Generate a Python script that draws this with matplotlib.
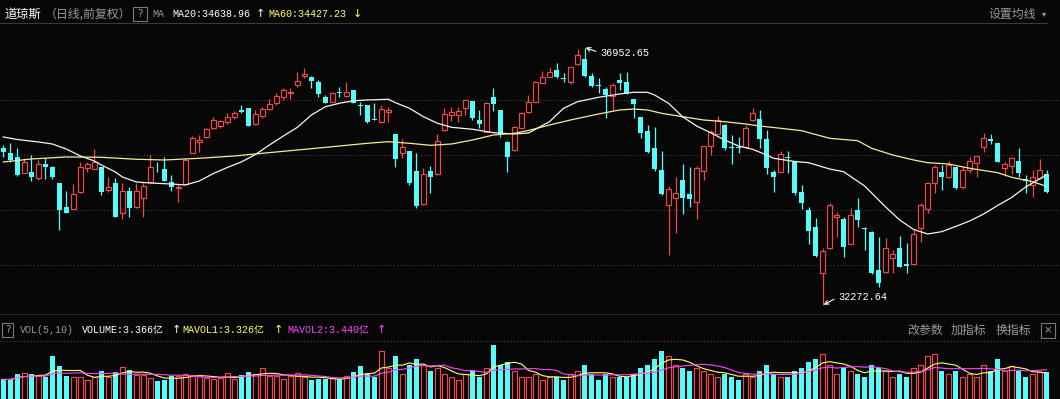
import numpy as np
import pandas as pd
import matplotlib
matplotlib.use("Agg")
import matplotlib.pyplot as plt
from matplotlib.lines import Line2D
from matplotlib.patches import Rectangle

# ---- daily candles (Dow Jones), oldest first ----
opens = [35121, 35030, 34968, 34677, 34684, 34575, 34830, 34775, 34484, 34058,
         34022, 34320, 34768, 34750, 34775, 34362, 34484, 33949, 34344, 34047,
         34211, 34513, 34786, 34739, 34513, 34398, 34466, 35041, 35241, 35332,
         35485, 35532, 35605, 35685, 35818, 35849, 35563, 35709, 35836, 35940,
         36060, 36133, 36273, 36437, 36424, 36333, 36060, 35969, 36140, 36078,
         36182, 35909, 35909, 35649, 35605, 35776, 35376, 35030, 35072, 34708,
         34102, 34708, 34648, 35454, 35727, 35727, 35849, 35982, 35636, 35423,
         36049, 35818, 35241, 35090, 35485, 35787, 35969, 36315, 36424, 36546,
         36395, 36333, 36650, 36746, 36442, 36273, 36195, 36073, 36364, 36322,
         36013, 35685, 35441, 35121, 34726, 34089, 34211, 34544, 34289, 34149,
         34708, 35163, 35381, 35545, 35139, 35150, 35150, 35636, 35649, 35285,
         34695, 34695, 34957, 34877, 34331, 33998, 33694, 32846, 33301, 33876,
         33829, 33379, 33998, 33676, 33603, 32906, 32875, 33119, 33301, 33015,
         33015, 33665, 34011, 34484, 34695, 34593, 34775, 34422, 34726, 34848,
         35139, 35285, 35223, 34757, 34799, 34895, 34557, 34453, 34575, 34653]
highs = [35181, 35212, 35121, 34939, 34999, 34908, 34939, 34799, 34490, 34344,
         34466, 34877, 34877, 35103, 34785, 34604, 34575, 34495, 34422, 34484,
         34513, 34999, 34877, 34968, 34635, 34471, 34939, 35345, 35363, 35485,
         35696, 35636, 35769, 35800, 35909, 35855, 35818, 35878, 36013, 36122,
         36213, 36213, 36504, 36577, 36437, 36364, 36091, 36151, 36242, 36333,
         36190, 35969, 35915, 35940, 35909, 35878, 35385, 35285, 35080, 35030,
         34757, 34799, 35376, 35849, 35878, 35878, 36013, 35990, 35818, 35969,
         36213, 35825, 35250, 35527, 35787, 36091, 36340, 36533, 36595, 36679,
         36486, 36606, 36930, 36952.65, 36486, 36395, 36242, 36304, 36486, 36515,
         36020, 35690, 35545, 35503, 35079, 34435, 34604, 34830, 34786, 34799,
         35170, 35454, 35709, 35555, 35363, 35332, 35545, 35849, 35818, 35454,
         34726, 35072, 35072, 34885, 34453, 34047, 33847, 33301, 34120, 33967,
         33876, 34029, 34211, 33680, 33610, 33512, 33483, 33270, 33525, 33403,
         33634, 34131, 34513, 34817, 34817, 34895, 34786, 34775, 34968, 34985,
         35394, 35381, 35241, 34877, 34968, 35121, 34635, 34726, 34921, 34726]
lows = [34968, 34877, 34625, 34666, 34531, 34544, 34562, 34557, 33634, 33940,
        34010, 34310, 34695, 34740, 34271, 34331, 33865, 33829, 33865, 34040,
        33876, 34505, 34695, 34525, 34349, 34149, 34455, 35035, 35059, 35303,
        35472, 35485, 35563, 35654, 35758, 35520, 35545, 35667, 35818, 35909,
        36000, 36013, 36242, 36395, 36213, 36049, 35940, 35958, 36060, 36060,
        35945, 35727, 35587, 35630, 35587, 35605, 34786, 34939, 34453, 34040,
        34089, 34302, 34635, 35441, 35618, 35605, 35727, 35636, 35485, 35412,
        35805, 35332, 34695, 35077, 35467, 35769, 35960, 36304, 36415, 36405,
        36333, 36286, 36637, 36424, 36231, 36122, 35667, 35818, 36182, 36109,
        35667, 35303, 35041, 34713, 34271, 33179, 33574, 33925, 34058, 33829,
        34544, 34999, 35375, 35090, 34835, 35030, 35121, 35623, 35121, 34653,
        34331, 34684, 34677, 34271, 34011, 33379, 33148, 32272.64, 33290, 33501,
        33148, 33370, 33694, 33270, 32840, 32602, 32857, 32857, 32955, 32846,
        32995, 33421, 33938, 34302, 34362, 34575, 34375, 34375, 34677, 34593,
        35059, 35199, 34866, 34617, 34653, 34593, 34313, 34229, 34557, 34302]
closes = [35059, 34908, 34635, 34877, 34593, 34830, 34775, 34593, 33998, 33949,
          34284, 34786, 34830, 34877, 34326, 34422, 33876, 34344, 34040, 34344,
          34435, 34775, 34775, 34531, 34411, 34411, 34908, 35303, 35272, 35467,
          35636, 35618, 35696, 35769, 35787, 35527, 35745, 35831, 35927, 36073,
          36182, 36151, 36351, 36468, 36351, 36109, 35951, 36133, 36122, 36151,
          35951, 35891, 35605, 35636, 35836, 35818, 34921, 35150, 34495, 34071,
          34648, 34604, 35254, 35745, 35787, 35800, 36000, 35667, 35563, 35951,
          35927, 35381, 34968, 35503, 35769, 35958, 36333, 36413, 36504, 36413,
          36377, 36595, 36819, 36442, 36255, 36260, 36091, 36273, 36315, 36122,
          35927, 35405, 35059, 34739, 34289, 34375, 34313, 34211, 34193, 34757,
          35163, 35423, 35636, 35121, 35121, 35132, 35485, 35769, 35285, 34757,
          34593, 35012, 34939, 34313, 34120, 33621, 33161, 33257, 34089, 33907,
          33330, 33907, 33816, 33652, 32846, 32664, 33301, 33197, 32966, 32984,
          33561, 34089, 34495, 34775, 34593, 34817, 34393, 34726, 34895, 34981,
          35303, 35259, 34877, 34835, 34939, 34666, 34531, 34593, 34726, 34331]

# volume in 亿
volume = [3.11, 3.11, 3.29, 3.32, 3.29, 3.22, 3.18, 3.91, 3.57, 3.22,
          3.20, 3.20, 3.09, 3.20, 3.40, 3.20, 3.35, 3.52, 3.45, 3.25,
          3.25, 3.15, 3.06, 3.09, 3.22, 3.22, 3.29, 3.26, 3.22, 3.15,
          3.12, 3.17, 3.32, 3.12, 3.26, 3.35, 3.29, 3.49, 3.22, 3.22,
          3.11, 3.22, 3.32, 3.20, 3.09, 3.12, 3.12, 3.15, 3.11, 3.22,
          3.35, 3.57, 3.30, 3.20, 4.10, 3.50, 3.90, 3.30, 3.60, 3.80,
          3.60, 3.40, 3.50, 3.30, 3.20, 3.10, 3.30, 3.40, 3.20, 3.50,
          4.30, 3.60, 3.70, 3.40, 3.20, 3.20, 3.30, 3.10, 3.20, 3.20,
          3.10, 3.30, 3.40, 3.60, 3.30, 3.10, 3.30, 3.20, 3.20, 3.20,
          3.30, 3.50, 3.60, 3.80, 4.10, 3.90, 3.60, 3.50, 3.40, 3.50,
          3.40, 3.30, 3.20, 3.30, 3.20, 3.10, 3.30, 3.20, 3.40, 3.60,
          3.30, 3.20, 3.20, 3.40, 3.50, 3.70, 3.80, 4.00, 3.60, 3.30,
          3.50, 3.40, 3.30, 3.20, 3.60, 3.50, 3.40, 3.20, 3.30, 3.20,
          3.50, 3.60, 3.90, 4.00, 3.40, 3.30, 3.40, 3.20, 3.30, 3.20,
          3.60, 3.40, 3.80, 3.40, 3.57, 3.40, 3.20, 3.30, 3.364, 3.366]

# moving averages (candle index, value)
ma20_idx = [0, 2, 5, 7, 9, 11, 13, 14, 16, 17, 19, 21, 24, 26, 28, 30, 32, 34, 36, 38,
            40, 42, 44, 46, 48, 50, 52, 55, 56, 58, 60, 62, 64, 67, 70, 73, 75, 78, 80, 82,
            85, 88, 90, 92, 93, 95, 97, 99, 101, 103, 105, 107, 109, 110, 113, 115, 118, 120,
            123, 125, 126, 128, 130, 132, 134, 136, 138, 140, 142, 144, 146, 147, 149]
ma20_val = [35327, 35281, 35236, 35199, 35108, 34981, 34890, 34817, 34690, 34599, 34508,
            34489, 34471, 34453, 34526, 34662, 34772, 34872, 35008, 35181,
            35345, 35503, 35727, 35878, 35940, 35987, 36000, 36013, 35951, 35849,
            35696, 35576, 35503, 35467, 35405, 35381, 35399, 35605, 35849, 35969,
            36049, 36109, 36140, 36140, 36091, 35940, 35696, 35527, 35405, 35272,
            35163, 35103, 34999, 34939, 34881, 34859, 34744, 34695,
            34435, 34180, 34053, 33816, 33643, 33561, 33603, 33698, 33798, 33925,
            34080, 34226, 34417, 34489, 34638.96]
ma60_idx = [0, 4, 9, 14, 19, 23, 28, 33, 37, 42, 47, 52, 55, 58, 61, 64, 67, 70, 73, 75,
            78, 81, 85, 88, 90, 92, 94, 97, 100, 103, 106, 108, 111, 114, 118, 122, 124,
            127, 130, 132, 135, 138, 142, 144, 147, 149]
ma60_val = [34872, 34926, 34963, 34957, 34921, 34908, 34939, 34981, 35030, 35090,
            35150, 35212, 35241, 35212, 35175, 35199, 35272, 35363, 35394, 35445,
            35545, 35636, 35745, 35818, 35836, 35818, 35758, 35696, 35636, 35605,
            35563, 35527, 35485, 35441, 35303, 35259, 35121, 34999, 34908, 34859,
            34835, 34757, 34677, 34593, 34513, 34427.23]

grid_levels = [36000, 35000, 34000, 33000]

BG = '#070707'
UP = '#f04848'
DN = '#54fcfc'
MA20C = '#f4f4f4'
MA60C = '#f2ee96'
YEL = '#ffff70'
MAG = '#ff44ff'
GREY = '#9a9a9a'
CJK = ['Noto Sans CJK SC', 'DejaVu Sans']
MONO = ['Liberation Mono', 'Noto Sans CJK SC', 'DejaVu Sans']

W, H = 1060, 399
fig = plt.figure(figsize=(W / 100, H / 100), dpi=100, facecolor=BG)


def box(x0, y0, x1, y1):
    # pixel box (y from top) -> figure fraction
    return [x0 / W, 1 - y1 / H, (x1 - x0) / W, (y1 - y0) / H]


def txt(x, y, s, color, size=8.5, family=CJK, ha='left'):
    fig.text(x / W, 1 - y / H, s, color=color, fontsize=size, family=family,
             ha=ha, va='center')


def hline(x0, x1, y, color, ls='-', lw=0.8):
    fig.add_artist(Line2D([x0 / W, x1 / W], [1 - y / H, 1 - y / H], color=color,
                          ls=ls, lw=lw, transform=fig.transFigure))


def qbox(x0, y0, x1, y1, s):
    fig.add_artist(Rectangle((x0 / W, 1 - y1 / H), (x1 - x0) / W, (y1 - y0) / H,
                             fill=False, ec='#7a7a7a', lw=0.8, transform=fig.transFigure))
    txt((x0 + x1) / 2, (y0 + y1) / 2, s, GREY, size=7.5, family=['DejaVu Sans'], ha='center')


o = np.array(opens, float)
h = np.array(highs, float)
l = np.array(lows, float)
c = np.array(closes, float)
v = np.array(volume, float)
x = np.arange(len(c))
up = c >= o
blo = np.minimum(o, c)
bhi = np.maximum(o, c)
bh = np.maximum(bhi - blo, 14)

# ---- price panel ----
ax = fig.add_axes(box(0, 24, 1060, 313), facecolor=BG)
ax.set_xlim(-0.47, 150.9)
ax.set_ylim(32123, 37383)
ax.axis('off')
for g in grid_levels:
    ax.axhline(g, color='#404040', lw=0.8, ls=(0, (1, 2)), zorder=0)

ax.vlines(x[~up], l[~up], h[~up], color=DN, lw=0.9, zorder=2)
ax.bar(x[~up], bh[~up], bottom=blo[~up], width=0.72, color=DN, lw=0, zorder=3)
ax.vlines(x[up], bhi[up], h[up], color=UP, lw=0.9, zorder=2)
ax.vlines(x[up], l[up], blo[up], color=UP, lw=0.9, zorder=2)
ax.bar(x[up], bh[up], bottom=blo[up], width=0.66, facecolor=BG, edgecolor=UP,
       lw=0.85, zorder=3)

ax.plot(ma20_idx, ma20_val, color=MA20C, lw=0.9, zorder=4)
ax.plot(ma60_idx, ma60_val, color=MA60C, lw=0.9, zorder=4)

ihi = int(np.argmax(h))
ilo = int(np.argmin(l))
ax.annotate(f'{h[ihi]:.2f}', xy=(ihi + 0.15, h[ihi]), xytext=(ihi + 2.2, h[ihi] - 95),
            color='white', fontsize=7.3, family=MONO, va='center', ha='left',
            arrowprops=dict(arrowstyle='->', color='white', lw=0.8, relpos=(0, 0.5),
                            shrinkA=1, shrinkB=0, mutation_scale=7), zorder=6)
ax.annotate(f'{l[ilo]:.2f}', xy=(ilo + 0.15, l[ilo]), xytext=(ilo + 2.2, l[ilo] + 140),
            color='white', fontsize=7.3, family=MONO, va='center', ha='left',
            arrowprops=dict(arrowstyle='->', color='white', lw=0.8, relpos=(0, 0.5),
                            shrinkA=1, shrinkB=0, mutation_scale=7), zorder=6)

# ---- volume panel (bottom is cut by the image edge) ----
ax2 = fig.add_axes(box(0, 341, 1060, 470), facecolor=BG)
ax2.set_xlim(-0.47, 150.9)
ax2.set_ylim(0, 4.43)
ax2.axis('off')
ax2.bar(x[~up], v[~up], width=0.76, color=DN, lw=0, zorder=2)
ax2.bar(x[up], v[up], width=0.7, facecolor=BG, edgecolor=UP, lw=0.85, zorder=2)
mv5 = pd.Series(v).rolling(5, min_periods=1).mean()
mv10 = pd.Series(v).rolling(10, min_periods=1).mean()
ax2.plot(x, mv5, color=YEL, lw=0.8, zorder=3)
ax2.plot(x, mv10, color=MAG, lw=0.8, zorder=3)

# ---- frame lines ----
hline(0, 1047, 23, '#3a3a3a')
hline(0, 1060, 314, '#262626')
hline(0, 1060, 341, '#4a4a4a', ls=(0, (1, 2)))

# ---- header texts ----
txt(4, 14, '道琼斯', 'white', size=8.8)
txt(45, 14, '（日线,前复权）', GREY, size=8.6)
qbox(133, 7, 147, 21, '?')
txt(152, 14, 'MA', GREY, size=7.2, family=MONO)
txt(172, 14, 'MA20:34638.96', 'white', size=7.2, family=MONO)
txt(256, 14, '↑', 'white', size=8, family=['DejaVu Sans'])
txt(268, 14, 'MA60:34427.23', YEL, size=7.2, family=MONO)
txt(353, 14, '↓', YEL, size=8, family=['DejaVu Sans'])
txt(988, 14, '设置均线', GREY, size=8.6)
txt(1042, 14, '▾', GREY, size=6, family=['DejaVu Sans'])

qbox(2, 323, 13, 337, '?')
txt(20, 330, 'VOL(5,10)', GREY, size=7.2, family=MONO)
txt(82, 330, 'VOLUME:3.366亿', 'white', size=7.2, family=MONO)
txt(172, 330, '↑', 'white', size=8, family=['DejaVu Sans'])
txt(182, 330, 'MAVOL1:3.326亿', YEL, size=7.2, family=MONO)
txt(274, 330, '↑', YEL, size=8, family=['DejaVu Sans'])
txt(287, 330, 'MAVOL2:3.440亿', MAG, size=7.2, family=MONO)
txt(377, 330, '↑', MAG, size=8, family=['DejaVu Sans'])
txt(907, 330, '改参数', GREY, size=8.6)
txt(951, 330, '加指标', GREY, size=8.6)
txt(996, 330, '换指标', GREY, size=8.6)
qbox(1041, 323, 1055, 338, '×')

fig.savefig('out.png', dpi=100, facecolor=BG)
